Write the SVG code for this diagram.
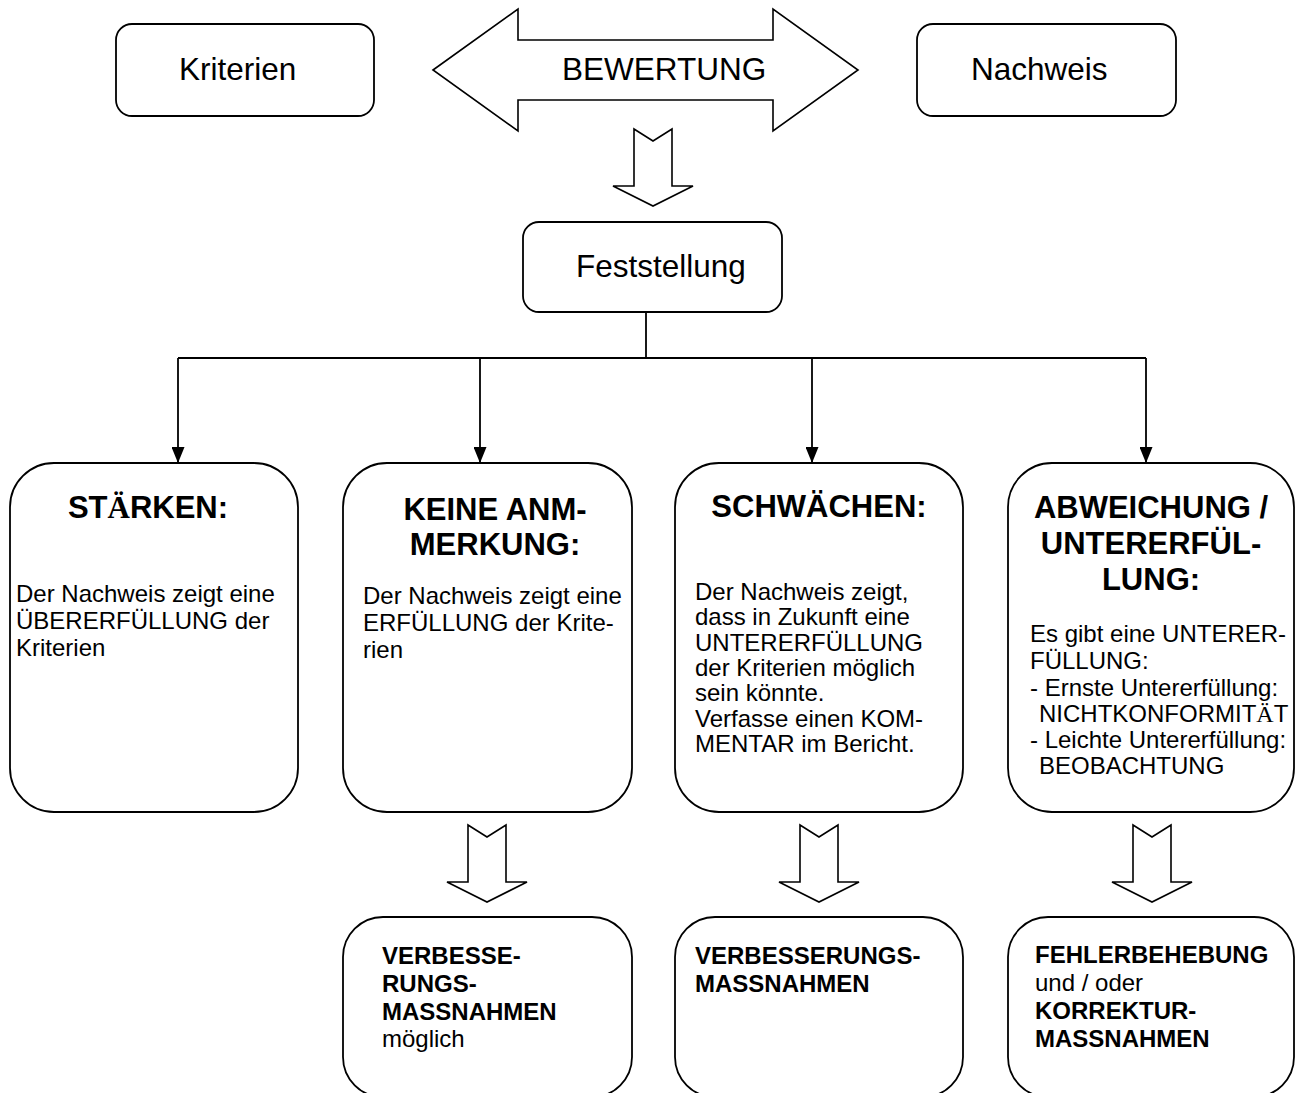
<svg xmlns="http://www.w3.org/2000/svg" xmlns:xlink="http://www.w3.org/1999/xlink" width="1295" height="1093" viewBox="0 0 1295 1093">
<style>
  .box { fill: #ffffff; stroke: #000000; stroke-width: 1.8; }
  .blk { fill: #ffffff; stroke: #000000; stroke-width: 1.6; stroke-linejoin: miter; }
  .conn { fill: none; stroke: #000000; stroke-width: 1.8; }
  .lbl { font-family: "Liberation Sans", Arial, sans-serif; font-size: 31.5px; fill: #000000; }
  .ttl { font-family: "Liberation Sans", Arial, sans-serif; font-size: 31px; font-weight: bold; fill: #000000; }
  .txt { font-family: "Liberation Sans", Arial, sans-serif; font-size: 24px; fill: #000000; }
  .btx { font-family: "Liberation Sans", Arial, sans-serif; font-size: 24px; fill: #000000; }
  .b { font-weight: bold; }
  .serif { font-family: "Liberation Serif", "Times New Roman", serif; }
  .mid { text-anchor: middle; }
</style>
<defs>
  <marker id="ah" markerUnits="userSpaceOnUse" markerWidth="16" markerHeight="13" refX="16" refY="6.5" orient="auto">
    <path d="M0,0 L16,6.5 L0,13 z" fill="#000000"/>
  </marker>
  <path id="downArrow" d="M-19,0 L0,12 L19,0 L19,57 L40,57 L0,77 L-40,57 L-19,57 z"/>
</defs>

<g id="kriterien">
  <rect class="box" x="116" y="24" width="258" height="92" rx="16" ry="16"/>
  <text class="lbl" x="179" y="80">Kriterien</text>
</g>

<g id="bewertung">
  <polygon class="blk" points="433,70 518,9 518,40 773,40 773,9 858,70 773,131 773,100 518,100 518,131"/>
  <text class="lbl" x="562" y="80">BEWERTUNG</text>
</g>

<g id="nachweis">
  <rect class="box" x="917" y="24" width="259" height="92" rx="16" ry="16"/>
  <text class="lbl" x="971" y="80">Nachweis</text>
</g>

<g id="arrow-bewertung-feststellung">
  <use xlink:href="#downArrow" class="blk" transform="translate(653,129)"/>
</g>

<g id="feststellung">
  <rect class="box" x="523" y="222" width="259" height="90" rx="16" ry="16"/>
  <text class="lbl" x="576" y="277">Feststellung</text>
</g>

<g id="connectors">
  <line class="conn" x1="646" y1="312" x2="646" y2="358"/>
  <line class="conn" x1="178" y1="358" x2="1146" y2="358"/>
  <line class="conn" x1="178" y1="358" x2="178" y2="463" marker-end="url(#ah)"/>
  <line class="conn" x1="480" y1="358" x2="480" y2="463" marker-end="url(#ah)"/>
  <line class="conn" x1="812" y1="358" x2="812" y2="463" marker-end="url(#ah)"/>
  <line class="conn" x1="1146" y1="358" x2="1146" y2="463" marker-end="url(#ah)"/>
</g>

<g id="staerken">
  <rect class="box" x="10" y="463" width="288" height="349" rx="44" ry="44"/>
  <text class="ttl mid" x="148" y="518">ST<tspan class="serif">Ä</tspan>RKEN:</text>
  <text class="txt" x="16" y="602">Der Nachweis zeigt eine</text>
  <text class="txt" x="16" y="629">ÜBERERFÜLLUNG der</text>
  <text class="txt" x="16" y="656">Kriterien</text>
</g>

<g id="keine-anmerkung">
  <rect class="box" x="343" y="463" width="289" height="349" rx="44" ry="44"/>
  <text class="ttl mid" x="495" y="520">KEINE ANM-</text>
  <text class="ttl mid" x="495" y="555">MERKUNG:</text>
  <text class="txt" x="363" y="604">Der Nachweis zeigt eine</text>
  <text class="txt" x="363" y="631">ERFÜLLUNG der Krite-</text>
  <text class="txt" x="363" y="658">rien</text>
</g>

<g id="schwaechen">
  <rect class="box" x="675" y="463" width="288" height="349" rx="44" ry="44"/>
  <text class="ttl mid" x="819" y="517">SCHWÄCHEN:</text>
  <text class="txt" x="695" y="600">Der Nachweis zeigt,</text>
  <text class="txt" x="695" y="625.3">dass in Zukunft eine</text>
  <text class="txt" x="695" y="650.6">UNTERERFÜLLUNG</text>
  <text class="txt" x="695" y="675.9">der Kriterien möglich</text>
  <text class="txt" x="695" y="701.2">sein könnte.</text>
  <text class="txt" x="695" y="726.5">Verfasse einen KOM-</text>
  <text class="txt" x="695" y="751.8">MENTAR im Bericht.</text>
</g>

<g id="abweichung">
  <rect class="box" x="1008" y="463" width="286" height="349" rx="44" ry="44"/>
  <text class="ttl mid" x="1151" y="518">ABWEICHUNG /</text>
  <text class="ttl mid" x="1151" y="554">UNTERERFÜL-</text>
  <text class="ttl mid" x="1151" y="590">LUNG:</text>
  <text class="txt" x="1030" y="642">Es gibt eine UNTERER-</text>
  <text class="txt" x="1030" y="669">FÜLLUNG:</text>
  <text class="txt" x="1030" y="696">- Ernste Untererfüllung:</text>
  <text class="txt" x="1039" y="722">NICHTKONFORMIT<tspan class="serif">Ä</tspan>T</text>
  <text class="txt" x="1030" y="748">- Leichte Untererfüllung:</text>
  <text class="txt" x="1039" y="774">BEOBACHTUNG</text>
</g>

<g id="block-arrows-lower">
  <use xlink:href="#downArrow" class="blk" transform="translate(487,825)"/>
  <use xlink:href="#downArrow" class="blk" transform="translate(819,825)"/>
  <use xlink:href="#downArrow" class="blk" transform="translate(1152,825)"/>
</g>

<g id="verbesserung-moeglich">
  <rect class="box" x="343" y="917" width="289" height="180" rx="40" ry="40"/>
  <text class="btx b" x="382" y="964">VERBESSE-</text>
  <text class="btx b" x="382" y="992">RUNGS-</text>
  <text class="btx b" x="382" y="1020">MASSNAHMEN</text>
  <text class="btx" x="382" y="1047">möglich</text>
</g>

<g id="verbesserungsmassnahmen">
  <rect class="box" x="675" y="917" width="288" height="180" rx="40" ry="40"/>
  <text class="btx b" x="695" y="964">VERBESSERUNGS-</text>
  <text class="btx b" x="695" y="992">MASSNAHMEN</text>
</g>

<g id="fehlerbehebung">
  <rect class="box" x="1008" y="917" width="286" height="180" rx="40" ry="40"/>
  <text class="btx b" x="1035" y="963">FEHLERBEHEBUNG</text>
  <text class="btx" x="1035" y="991">und / oder</text>
  <text class="btx b" x="1035" y="1019">KORREKTUR-</text>
  <text class="btx b" x="1035" y="1047">MASSNAHMEN</text>
</g>
</svg>
